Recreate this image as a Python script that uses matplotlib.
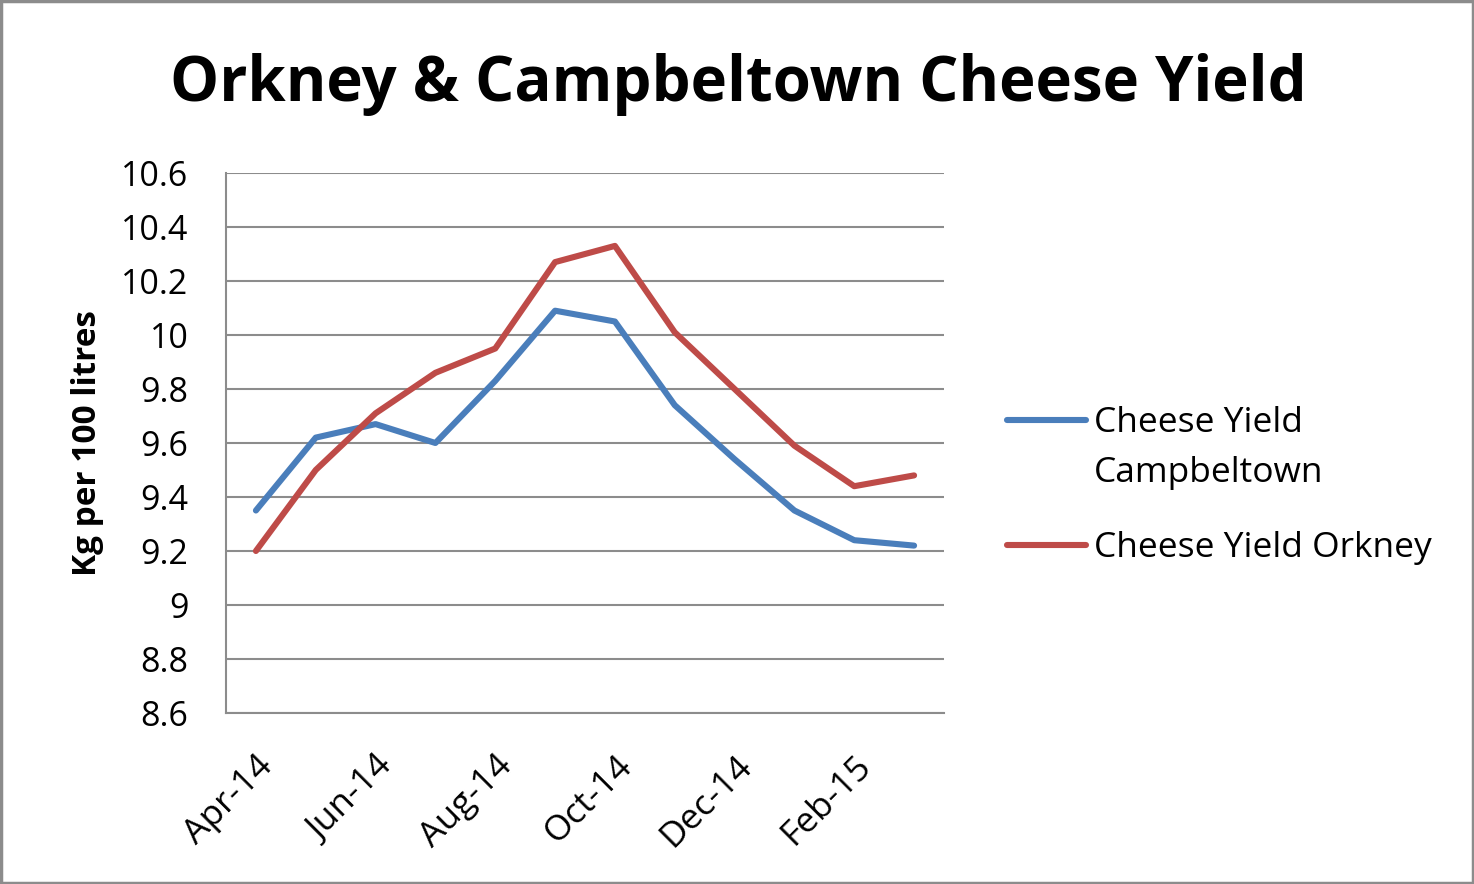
import matplotlib
matplotlib.use("Agg")
import matplotlib.pyplot as plt
from matplotlib.patches import Rectangle
from matplotlib.lines import Line2D

months = ["Apr-14", "May-14", "Jun-14", "Jul-14", "Aug-14", "Sep-14",
          "Oct-14", "Nov-14", "Dec-14", "Jan-15", "Feb-15", "Mar-15"]
campbeltown = [9.35, 9.62, 9.67, 9.60, 9.83, 10.09, 10.05, 9.74, 9.54, 9.35, 9.24, 9.22]
orkney = [9.20, 9.50, 9.71, 9.86, 9.95, 10.27, 10.33, 10.01, 9.80, 9.59, 9.44, 9.48]
yticks = [8.6, 8.8, 9.0, 9.2, 9.4, 9.6, 9.8, 10.0, 10.2, 10.4, 10.6]
ytick_labels = ["8.6", "8.8", "9", "9.2", "9.4", "9.6", "9.8", "10", "10.2", "10.4", "10.6"]
series_names = ["Cheese Yield\nCampbeltown", "Cheese Yield Orkney"]
colors = ["#4A7EBB", "#BE4B48"]

plt.rcParams['font.family'] = ['Open Sans', 'DejaVu Sans']

W, H = 1474, 884
fig = plt.figure(figsize=(W/100, H/100), dpi=100)
ax = fig.add_axes([226/W, 1-713/H, (944-226)/W, (713-173)/H])

x = list(range(len(months)))
for vals, c, name in zip([campbeltown, orkney], colors, series_names):
    ax.plot(x, vals, color=c, lw=4.4, label=name, solid_joinstyle='round',
            solid_capstyle='round')

ax.set_xlim(-0.5, len(months) - 0.5)
ax.set_ylim(8.6, 10.6)
ax.set_yticks(yticks)
ax.set_yticklabels(ytick_labels, fontsize=24.5)
ax.yaxis.grid(True, color="#8C8C8C", lw=1.5)
ax.set_axisbelow(True)
ax.set_xticks(x[::2])
ax.set_xticklabels(months[::2], fontsize=25.5, rotation=45, ha='right', rotation_mode='anchor')
ax.tick_params(axis='x', length=0, pad=26)
ax.tick_params(axis='y', length=0, pad=27)
for s in ['top', 'right']:
    ax.spines[s].set_visible(False)
for s in ['left', 'bottom']:
    ax.spines[s].set_color("#8C8C8C")
    ax.spines[s].set_linewidth(1.5)

ax.set_ylabel("Kg per 100 litres", fontsize=24, fontweight='bold', labelpad=12)

fig.text(738/W, 1-85/H, "Orkney & Campbeltown Cheese Yield", fontsize=44.5,
         fontweight='bold', ha='center', va='center')

# legend
leg_y = [420, 545]
for ly, c, name in zip(leg_y, colors, series_names):
    fig.add_artist(Line2D([1007/W, 1086/W], [1-ly/H, 1-ly/H], color=c, lw=4.4,
                          solid_capstyle='round', transform=fig.transFigure))
    fig.text(1094/W, 1-(ly-14)/H, name, fontsize=25.5, ha='left', va='top',
             linespacing=1.6)

fig.add_artist(Rectangle((0.001, 0.001), 0.998, 0.998, transform=fig.transFigure,
                         fill=False, edgecolor="#8C8C8C", lw=2.5))

fig.savefig("out.png", dpi=100, facecolor="white")
